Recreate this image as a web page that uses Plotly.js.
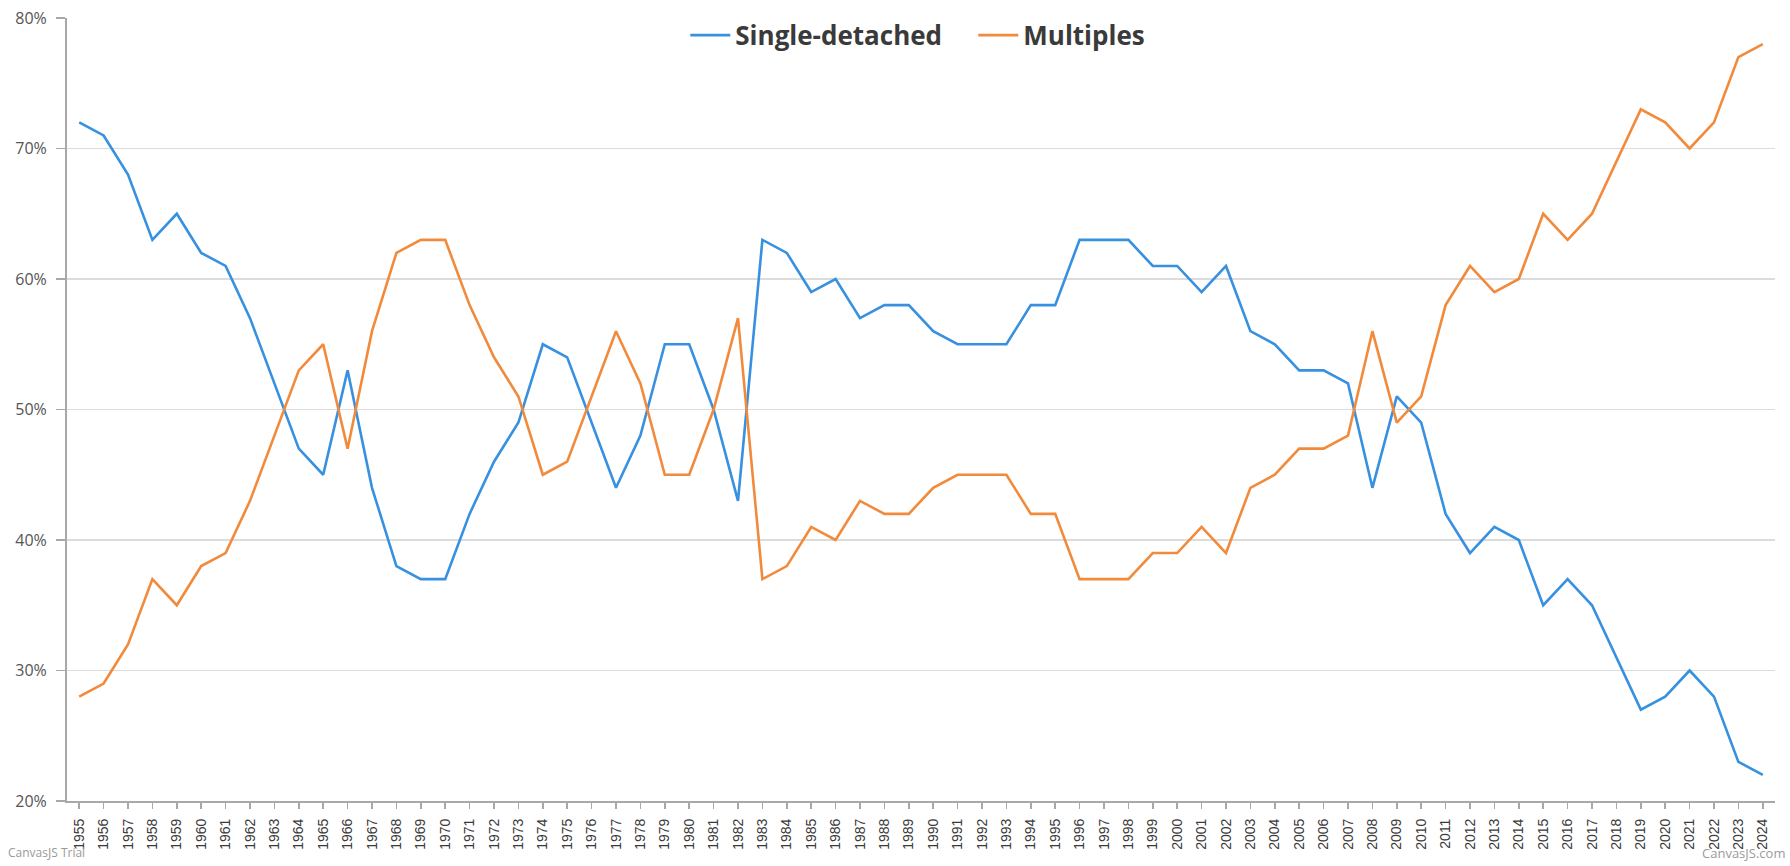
<!DOCTYPE html>
<html>
<head>
<meta charset="utf-8">
<script src="https://cdn.plot.ly/plotly-3.0.1.min.js"></script>
<style>
  html, body { margin: 0; padding: 0; background: #ffffff; }
  #chart { width: 1790px; height: 866px; }
</style>
</head>
<body>
<div id="chart"></div>
<script>
// Years (category labels)
const years = [
  "1955","1956","1957","1958","1959","1960","1961","1962","1963","1964",
  "1965","1966","1967","1968","1969","1970","1971","1972","1973","1974",
  "1975","1976","1977","1978","1979","1980","1981","1982","1983","1984",
  "1985","1986","1987","1988","1989","1990","1991","1992","1993","1994",
  "1995","1996","1997","1998","1999","2000","2001","2002","2003","2004",
  "2005","2006","2007","2008","2009","2010","2011","2012","2013","2014",
  "2015","2016","2017","2018","2019","2020","2021","2022","2023","2024"
];

// Share of single-detached (%)
const singleDetached = [
  72, 71, 68, 63, 65, 62, 61, 57, 52, 47,
  45, 53, 44, 38, 37, 37, 42, 46, 49, 55,
  54, 49, 44, 48, 55, 55, 50, 43, 63, 62,
  59, 60, 57, 58, 58, 56, 55, 55, 55, 58,
  58, 63, 63, 63, 61, 61, 59, 61, 56, 55,
  53, 53, 52, 44, 51, 49, 42, 39, 41, 40,
  35, 37, 35, 31, 27, 28, 30, 28, 23, 22
];

// Share of multiples (%)
const multiples = [
  28, 29, 32, 37, 35, 38, 39, 43, 48, 53,
  55, 47, 56, 62, 63, 63, 58, 54, 51, 45,
  46, 51, 56, 52, 45, 45, 50, 57, 37, 38,
  41, 40, 43, 42, 42, 44, 45, 45, 45, 42,
  42, 37, 37, 37, 39, 39, 41, 39, 44, 45,
  47, 47, 48, 56, 49, 51, 58, 61, 59, 60,
  65, 63, 65, 69, 73, 72, 70, 72, 77, 78
];

const seriesNames = ["Single-detached", "Multiples"];
const seriesColors = ["#3790e0", "#f28a3c"];

const traces = [
  {
    x: years, y: singleDetached, name: seriesNames[0],
    type: "scatter", mode: "lines",
    line: { color: seriesColors[0], width: 2.6 }
  },
  {
    x: years, y: multiples, name: seriesNames[1],
    type: "scatter", mode: "lines",
    line: { color: seriesColors[1], width: 2.6 }
  }
];

const layout = {
  width: 1790,
  height: 866,
  margin: { l: 67, r: 15, t: 14, b: 65, pad: 0 },
  paper_bgcolor: "#ffffff",
  plot_bgcolor: "#ffffff",
  showlegend: true,
  legend: {
    orientation: "h",
    x: 0.362, xanchor: "left",
    y: 0.978, yanchor: "middle",
    bgcolor: "rgba(0,0,0,0)",
    font: { family: "Open Sans, Noto Sans, sans-serif", size: 26, color: "#3a3a3a", weight: "bold" },
    itemwidth: 40,
    entrywidth: 233,
    entrywidthmode: "pixels"
  },
  xaxis: {
    type: "category",
    range: [-0.5, 69.5],
    tickangle: -90,
    ticks: "outside",
    ticklen: 6,
    tickwidth: 1.5,
    tickcolor: "#a8a8a8",
    showline: true,
    linecolor: "#a8a8a8",
    linewidth: 2,
    showgrid: false,
    zeroline: false,
    tickfont: { family: "Liberation Sans, Arial, sans-serif", size: 14, color: "#3a3a3a" },
    ticklabelstandoff: 4
  },
  yaxis: {
    range: [20, 80],
    dtick: 10,
    tick0: 20,
    ticksuffix: "%",
    ticks: "outside",
    ticklen: 9,
    tickwidth: 1.5,
    tickcolor: "#a8a8a8",
    showline: true,
    linecolor: "#a8a8a8",
    linewidth: 2,
    showgrid: true,
    gridcolor: "#dcdcdc",
    gridwidth: 1.5,
    zeroline: false,
    tickfont: { family: "Open Sans, Noto Sans, sans-serif", size: 16, color: "#555555" },
    ticklabelstandoff: 6
  },
  annotations: [
    {
      text: "CanvasJS Trial", xref: "paper", yref: "paper",
      x: -0.0357, xanchor: "left", y: -0.066, yanchor: "middle",
      showarrow: false,
      font: { family: "Open Sans, Noto Sans, sans-serif", size: 12, color: "#9a9a9a" }
    },
    {
      text: "CanvasJS.com", xref: "paper", yref: "paper",
      x: 1.007, xanchor: "right", y: -0.066, yanchor: "middle",
      showarrow: false,
      font: { family: "Open Sans, Noto Sans, sans-serif", size: 13, color: "#9a9a9a" }
    }
  ]
};

Plotly.newPlot("chart", traces, layout, { displayModeBar: false, staticPlot: true });
</script>
</body>
</html>
